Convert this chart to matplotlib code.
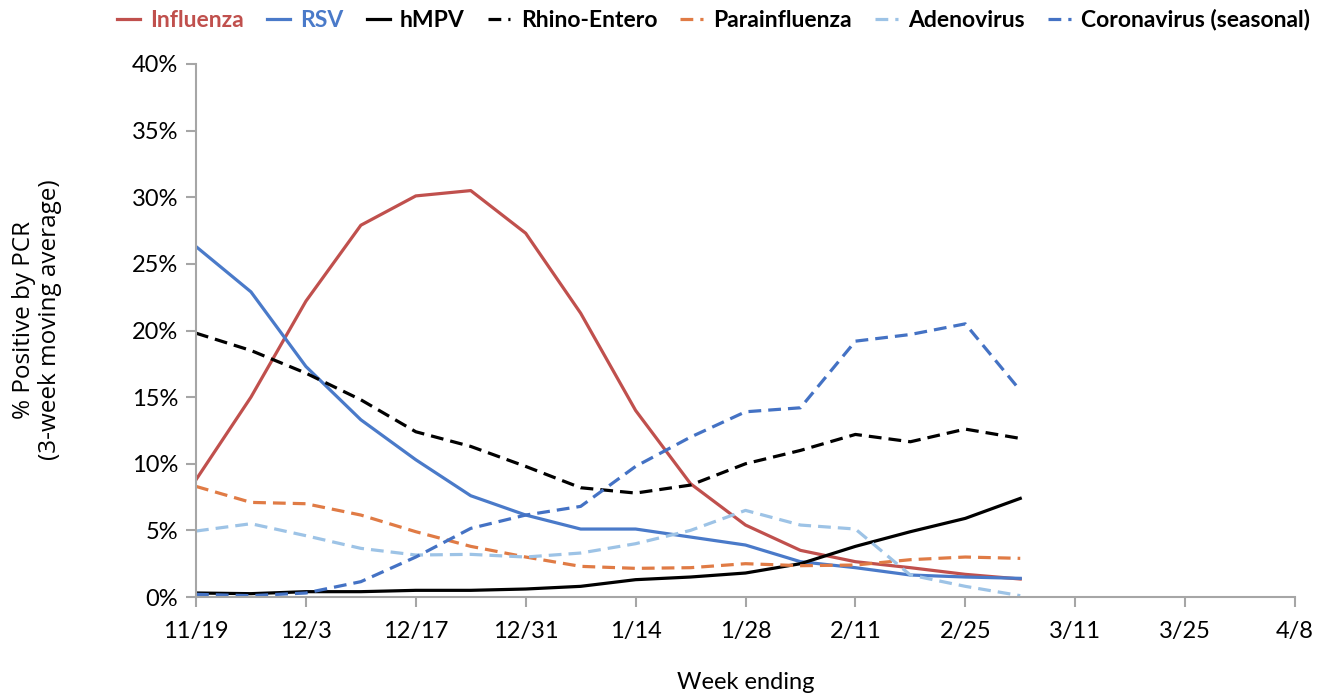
import matplotlib
matplotlib.use("Agg")
import matplotlib.pyplot as plt

weeks = list(range(16))
tick_labels = ["11/19", "12/3", "12/17", "12/31", "1/14", "1/28", "2/11",
               "2/25", "3/11", "3/25", "4/8"]

influenza = [8.8, 15.0, 22.2, 27.9, 30.1, 30.5, 27.3, 21.3, 14.0, 8.5, 5.4, 3.5, 2.65, 2.2, 1.7, 1.35]
rsv = [26.3, 22.9, 17.3, 13.3, 10.3, 7.6, 6.15, 5.1, 5.1, 4.5, 3.9, 2.65, 2.2, 1.65, 1.5, 1.4]
hmpv = [0.3, 0.25, 0.4, 0.4, 0.5, 0.5, 0.6, 0.8, 1.3, 1.5, 1.8, 2.5, 3.8, 4.9, 5.9, 7.4]
rhino = [19.8, 18.5, 16.8, 14.8, 12.4, 11.3, 9.8, 8.2, 7.8, 8.4, 10.0, 11.0, 12.2, 11.65, 12.6, 11.9]
parainfluenza = [8.3, 7.1, 7.0, 6.15, 4.9, 3.8, 3.0, 2.3, 2.15, 2.2, 2.5, 2.35, 2.4, 2.8, 3.0, 2.9]
adenovirus = [4.95, 5.5, 4.6, 3.65, 3.15, 3.2, 3.0, 3.3, 4.0, 5.0, 6.5, 5.4, 5.1, 1.65, 0.8, 0.1]
coronavirus = [0.2, 0.1, 0.3, 1.15, 3.0, 5.15, 6.15, 6.8, 9.8, 12.0, 13.9, 14.2, 19.2, 19.7, 20.5, 15.5]

names = ["Influenza", "RSV", "hMPV", "Rhino-Entero", "Parainfluenza", "Adenovirus", "Coronavirus (seasonal)"]

font = ["Lato", "DejaVu Sans"]

fig = plt.figure(figsize=(13.24, 6.96), dpi=100)
ax = fig.add_axes([196/1324, 1-597/696, (1295-196)/1324, (597-64)/696])

dash = (0, (4.0, 2.2))
series = [
    (influenza, "#c0504d", "-"),
    (rsv, "#4a7ac9", "-"),
    (hmpv, "#000000", "-"),
    (rhino, "#000000", dash),
    (parainfluenza, "#e07b45", dash),
    (adenovirus, "#9dc3e6", dash),
    (coronavirus, "#4472c4", dash),
]
handles = []
for (vals, col, ls), nm in zip(series, names):
    h, = ax.plot(weeks, vals, color=col, linestyle=ls, linewidth=2.3, label=nm)
    handles.append(h)

ax.set_xlim(0, 20)
ax.set_ylim(0, 40)
ax.set_xticks(range(0, 21, 2))
ax.set_xticklabels(tick_labels, family=font, fontsize=17)
ax.set_yticks(range(0, 41, 5))
ax.set_yticklabels([f"{v}%" for v in range(0, 41, 5)], family=font, fontsize=17)
for s in ["top", "right"]:
    ax.spines[s].set_visible(False)
for s in ["left", "bottom"]:
    ax.spines[s].set_color("#a6a6a6")
    ax.spines[s].set_linewidth(1.5)
ax.tick_params(axis="both", direction="out", color="#a6a6a6", width=1.5, length=7)
ax.tick_params(axis="x", pad=10)
ax.tick_params(axis="y", pad=6)

ax.set_xlabel("Week ending", family=font, fontsize=17, labelpad=22)
ax.set_ylabel("% Positive by PCR\n(3-week moving average)", family=["Open Sans", "DejaVu Sans"],
              fontsize=17.5, labelpad=44, linespacing=1.1)
ax.yaxis.set_label_coords(-0.122, 0.52)

leg = fig.legend(handles=handles, loc="center", bbox_to_anchor=(0.539, 1-20/696), ncol=7,
                 frameon=False, handlelength=1.0, handletextpad=0.45, columnspacing=1.0,
                 prop={"family": font, "weight": "bold", "size": 16.5})
leg.get_texts()[0].set_color("#c0504d")
leg.get_texts()[1].set_color("#4a7ac9")

fig.savefig("out.png", dpi=100, facecolor="white")
